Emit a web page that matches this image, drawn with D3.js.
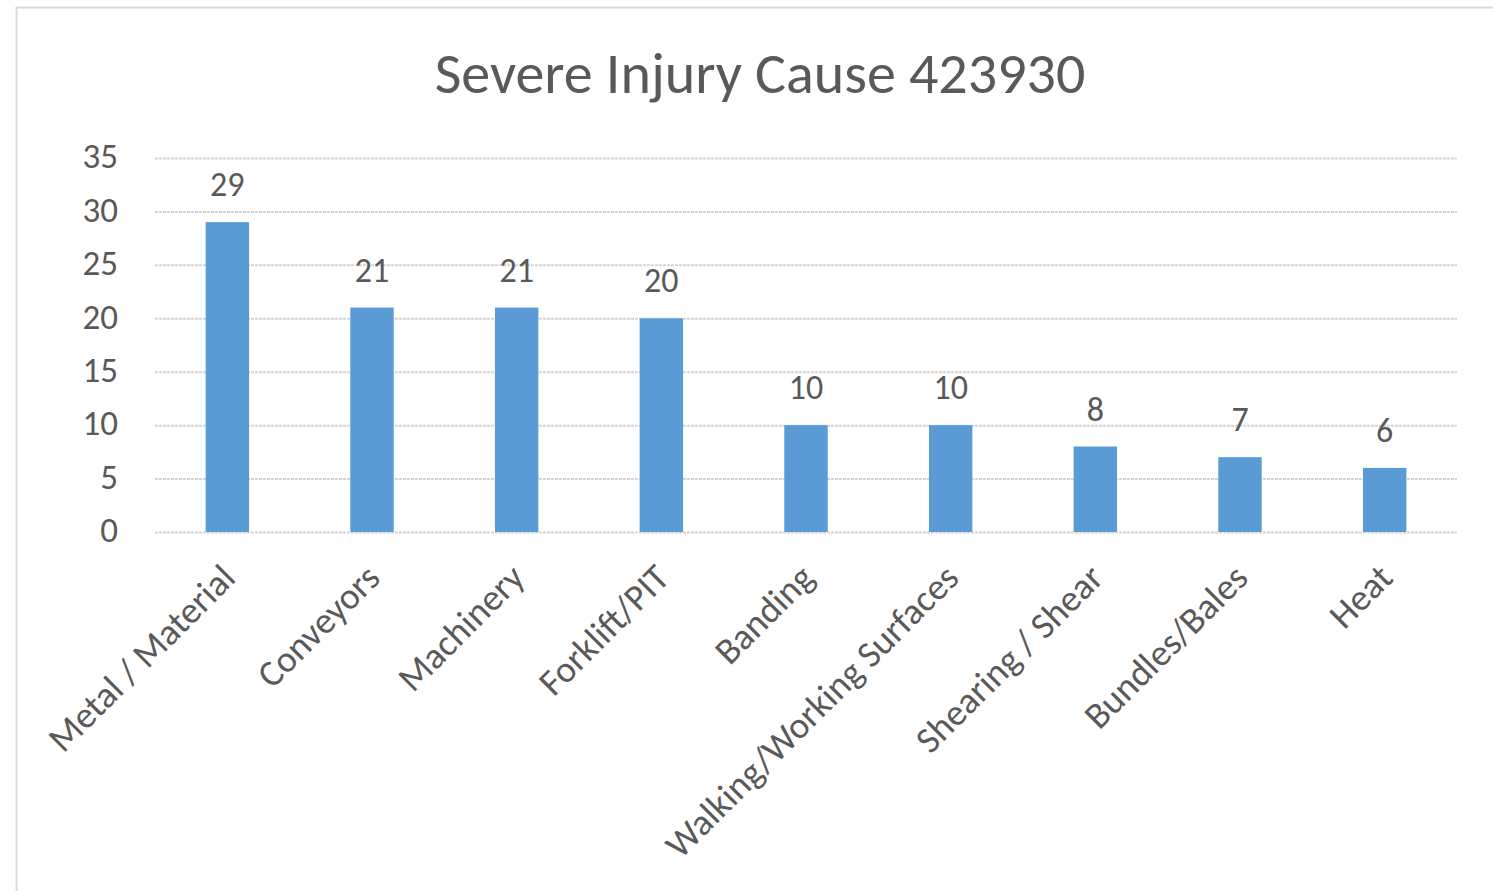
<!DOCTYPE html>
<html>
<head>
<meta charset="utf-8">
<script src="https://cdn.jsdelivr.net/npm/d3@7"></script>
<style>
  body { margin: 0; background: #fff; }
  text { font-family: Carlito, Calibri, Lato, sans-serif; fill: #595959; }
</style>
</head>
<body>
<div id="chart"></div>
<script>
"use strict";

const categories = ['Metal / Material', 'Conveyors', 'Machinery', 'Forklift/PIT', 'Banding',
  'Walking/Working Surfaces', 'Shearing / Shear', 'Bundles/Bales', 'Heat']
const counts = [29, 21, 21, 20, 10, 10, 8, 7, 6]
const yTicks = [0, 5, 10, 15, 20, 25, 30, 35]
const title = 'Severe Injury Cause 423930'

const width = 1493
  , height = 891
  , margin = { top: 158, right: 36, bottom: 359, left: 155 }

const svg = d3.select('#chart').append('svg')
  .attr('width', width)
  .attr('height', height)

// outer chart border
svg.append('rect')
  .attr('x', 16.5)
  .attr('y', 7.5)
  .attr('width', width)
  .attr('height', height)
  .attr('fill', '#fff')
  .attr('stroke', '#d9d9d9')
  .attr('stroke-width', 2)

svg.append('text')
  .attr('x', 760)
  .attr('y', 93)
  .attr('text-anchor', 'middle')
  .style('font-size', '58px')
  .text(title)

const innerW = width - margin.left - margin.right
  , innerH = height - margin.top - margin.bottom

const g = svg.append('g')
  .attr('transform', `translate(${margin.left},${margin.top})`)

const x = d3.scaleBand()
  .domain(categories)
  .range([0, innerW])
  .paddingInner(0.7)
  .paddingOuter(0.35)

const y = d3.scaleLinear()
  .domain([0, 35])
  .range([innerH, 0])

/*
 * Gridlines + y labels
 ***/
const yAxis = d3.axisLeft(y)
  .tickValues(yTicks)
  .tickSize(-innerW)
  .tickPadding(37)

const yG = g.append('g').call(yAxis)
yG.select('.domain').remove()
yG.selectAll('line')
  .attr('stroke', '#d4d4d4')
  .attr('stroke-width', 2)
  .attr('stroke-dasharray', '3,1')
yG.selectAll('text')
  .attr('fill', '#595959')
  .style('font-size', '35px')
  .attr('dy', '0.28em')

/*
 * Bars
 ***/
g.selectAll('rect.bar')
  .data(counts)
  .enter().append('rect')
  .attr('class', 'bar')
  .attr('x', (d, i) => x(categories[i]))
  .attr('y', d => y(d))
  .attr('width', x.bandwidth())
  .attr('height', d => innerH - y(d))
  .attr('fill', '#5b9bd5')

g.selectAll('text.value')
  .data(counts)
  .enter().append('text')
  .attr('class', 'value')
  .attr('x', (d, i) => x(categories[i]) + x.bandwidth() / 2)
  .attr('y', d => y(d) - 26)
  .attr('text-anchor', 'middle')
  .style('font-size', '34px')
  .text(d => d)

/*
 * Category labels, rotated
 ***/
const xAxis = d3.axisBottom(x).tickSize(0).tickPadding(0)
const xG = g.append('g')
  .attr('transform', `translate(0,${innerH})`)
  .call(xAxis)
xG.select('.domain').remove()
xG.selectAll('text')
  .attr('fill', '#595959')
  .style('font-size', '37px')
  .attr('text-anchor', 'end')
  .attr('dy', 0)
  .attr('transform', 'translate(10,48) rotate(-45)')
</script>
</body>
</html>
